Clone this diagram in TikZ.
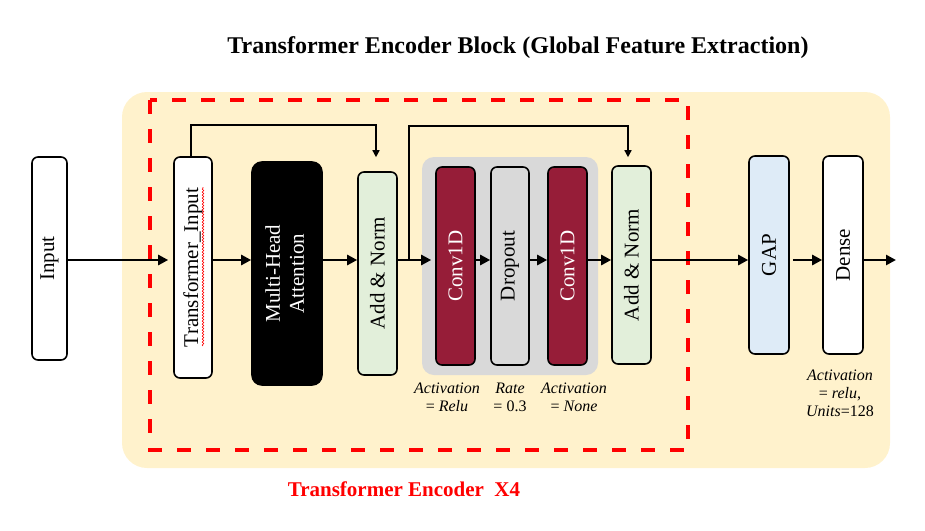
\documentclass[tikz,border=0pt]{standalone}
\usepackage{fontspec}
\setmainfont{Liberation Serif}
\usetikzlibrary{arrows.meta,decorations.pathmorphing}
\definecolor{bgyellow}{HTML}{FFF2CC}
\definecolor{panelgrey}{HTML}{D9D9D9}
\definecolor{convred}{HTML}{961D38}
\definecolor{normgreen}{HTML}{E2EFDA}
\definecolor{gapblue}{HTML}{DEEBF7}
\begin{document}
\begin{tikzpicture}[x=1pt,y=-1pt,
  box/.style={draw=black, line width=1.6pt, rounded corners=6pt, inner sep=0pt, font=\fontsize{21}{24}\selectfont},
  arr/.style={line width=2.5pt, -{Triangle[length=10pt,width=10pt]}},
  skiparr/.style={line width=1.5pt, -{Triangle[length=7pt,width=7pt]}},
  note/.style={font=\fontsize{16}{18}\selectfont, align=center, inner sep=0pt},
  big/.style={font=\fontsize{21}{24}\selectfont\bfseries}]
\useasboundingbox (0,0) rectangle (925,530);
\fill[bgyellow, rounded corners=25pt] (122,92) rectangle (890,468);
\draw[red, line width=3.5pt, dash pattern=on 14pt off 15pt] (150,100) rectangle (688,450);
\node[fill=panelgrey, rounded corners=12pt, minimum width=176, minimum height=218, inner sep=0pt] (grp) at (510,266) {};

\node[big, font=\fontsize{24}{28}\selectfont\bfseries] (title) at (518,48) {Transformer Encoder Block (Global Feature Extraction)};
\node[big, text=red] (rep) at (404,489) {Transformer Encoder~~X4};

\node[box, fill=white, minimum width=35, minimum height=203] (inp) at (49.5,258.5) {\rotatebox{90}{Input}};
\node[box, fill=white, minimum width=38, minimum height=221] (ti) at (193,267.5) {\rotatebox{90}{Transformer\_Input}};
\node[box, fill=black, text=white, minimum width=70, minimum height=223, rounded corners=10pt] (mha) at (287,273.5) {\rotatebox{90}{\begin{tabular}{@{}c@{}}Multi-Head\\Attention\end{tabular}}};
\node[box, fill=normgreen, minimum width=39, minimum height=203] (an1) at (377.5,273.5) {\rotatebox{90}{Add \& Norm}};
\node[box, fill=convred, text=white, minimum width=39, minimum height=198] (c1) at (455.5,266) {\rotatebox{90}{Conv1D}};
\node[box, fill=panelgrey, minimum width=38, minimum height=198] (dr) at (510,266) {\rotatebox{90}{Dropout}};
\node[box, fill=convred, text=white, minimum width=39, minimum height=198] (c2) at (567.5,266) {\rotatebox{90}{Conv1D}};
\node[box, fill=normgreen, minimum width=39, minimum height=198] (an2) at (631.5,265) {\rotatebox{90}{Add \& Norm}};
\node[box, fill=gapblue, minimum width=40, minimum height=198] (gap) at (769,255) {\rotatebox{90}{GAP}};
\node[box, fill=white, minimum width=40, minimum height=198] (dense) at (843,255) {\rotatebox{90}{Dense}};

\draw[red, line width=0.6pt, decorate, decoration={snake, amplitude=0.8pt, segment length=3pt}] (203,346) -- (203,187);

\coordinate (ly) at (0,260);
\coordinate (br) at (409,260);
\coordinate (out) at (896,260);
\draw[arr, shorten >=5pt] (inp.east |- ly) -- (ti.west |- ly);
\draw[arr] (ti.east |- ly) -- (mha.west |- ly);
\draw[arr] (mha.east |- ly) -- (an1.west |- ly);
\draw[arr, shorten >=4pt] (an1.east |- ly) -- (c1.west |- ly);
\draw[arr] (c1.east |- ly) -- (dr.west |- ly);
\draw[arr] (dr.east |- ly) -- (c2.west |- ly);
\draw[arr] (c2.east |- ly) -- (an2.west |- ly);
\draw[arr] (an2.east |- ly) -- (gap.west |- ly);
\draw[arr, shorten <=3pt] (gap.east |- ly) -- (dense.west |- ly);
\draw[arr] (dense.east |- ly) -- (out);

\draw[skiparr] ([xshift=-2pt]ti.north) -- ++(0,-31) -| ([xshift=-1.5pt,yshift=14pt]an1.north);
\draw[skiparr] (br) -- ++(0,-134) -| ([xshift=-3.5pt,yshift=8pt]an2.north);

\node[note] (n1) at (447,397) {\textit{Activation}\\= \textit{Relu}};
\node[note] (n2) at (510,397) {\textit{Rate}\\= 0.3};
\node[note] (n3) at (574,397) {\textit{Activation}\\= \textit{None}};
\node[note] (n4) at (840,393) {\textit{Activation}\\= \textit{relu},\\\textit{Units}=128};
\end{tikzpicture}
\end{document}
